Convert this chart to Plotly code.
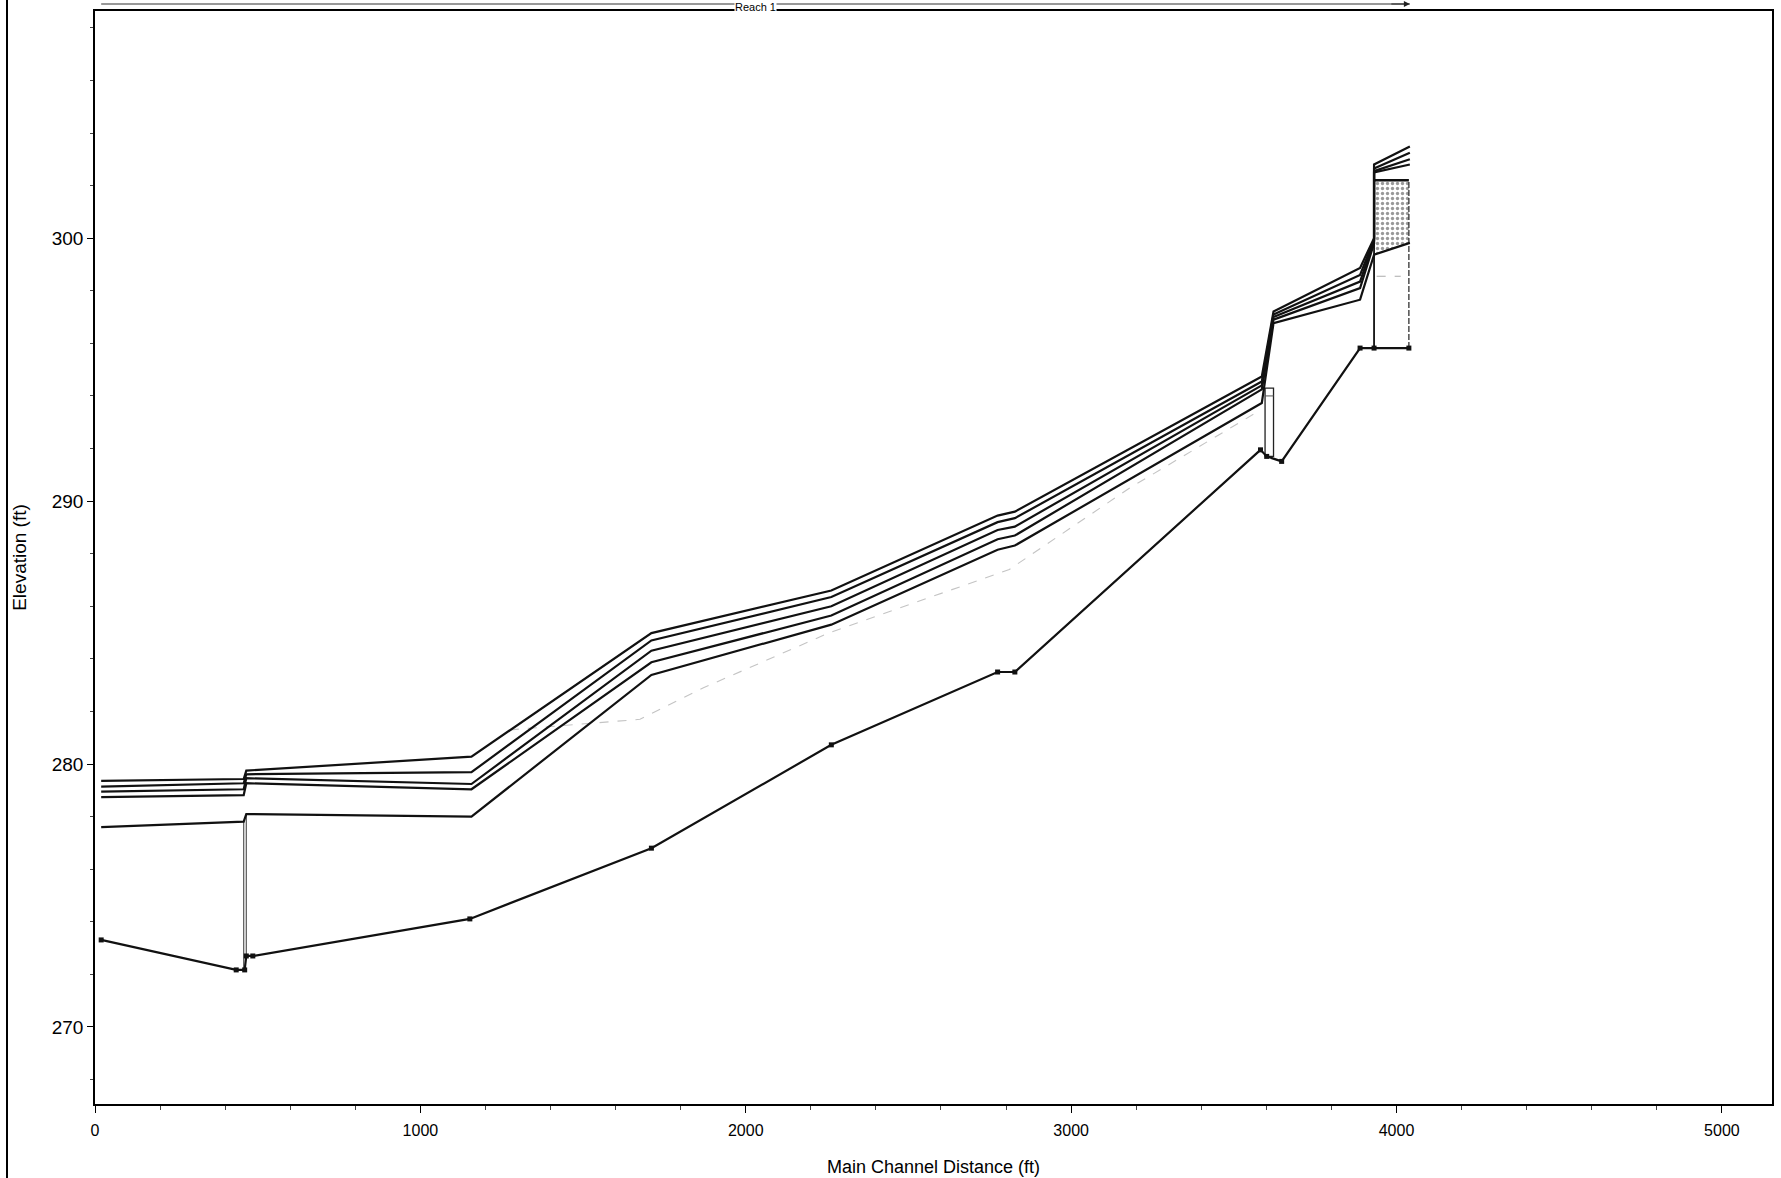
import plotly.graph_objects as go

# ---------------- data ----------------
stations = [19, 457, 465, 1157, 1710, 2263, 2774, 2827, 3586, 3622, 3888, 3931, 3931, 4041]
ws_1 = [279.36, 279.43, 279.75, 280.28, 284.98, 286.60, 289.45, 289.60, 294.74, 297.21, 298.87, 300.00, 302.80, 303.49]
ws_2 = [279.14, 279.27, 279.61, 279.69, 284.70, 286.35, 289.20, 289.35, 294.55, 297.10, 298.60, 299.95, 302.65, 303.25]
ws_3 = [278.95, 279.04, 279.46, 279.24, 284.31, 286.00, 288.90, 289.03, 294.40, 297.00, 298.35, 299.90, 302.55, 303.00]
ws_4 = [278.74, 278.82, 279.27, 279.04, 283.87, 285.65, 288.55, 288.69, 294.25, 296.90, 298.10, 299.80, 302.50, 302.80]
ws_5 = [277.60, 277.81, 278.10, 278.00, 283.39, 285.30, 288.15, 288.31, 293.73, 296.77, 297.66, 299.37, 299.37, 299.82]

ground_x = [19, 434, 460, 465, 485, 1152, 1710, 2263, 2774, 2827, 3582, 3601, 3647, 3888, 3931, 4038]
ground_y = [273.31, 272.17, 272.17, 272.70, 272.70, 274.11, 276.80, 280.73, 283.50, 283.50,
            291.95, 291.70, 291.51, 295.82, 295.82, 295.82]

crit_x = [1275, 1675, 1870, 2258, 2810, 3180, 3560]
crit_y = [281.3, 281.7, 282.9, 285.0, 287.4, 290.5, 293.3]

bridge_x = [457, 465]
bridge_bottom = [272.17, 272.70]
bridge_top = [277.81, 278.10]

culvert_x = [3596, 3622]
culvert_y = [291.70, 294.30]

weir_x = [3931, 4038]
weir_bottom = 295.82
weir_deck = 302.20
weir_left_top = 302.80
weir_fill_low = [299.37, 299.82]

reach_label = "Reach 1"
x_title = "Main Channel Distance (ft)"
y_title = "Elevation (ft)"

# ---------------- figure ----------------
fig = go.Figure()

# stippled region under weir deck
fig.add_trace(go.Scatter(
    x=[weir_x[0], weir_x[1], weir_x[1], weir_x[0], weir_x[0]],
    y=[weir_fill_low[0], weir_fill_low[1], weir_deck, weir_deck, weir_fill_low[0]],
    mode="lines", fill="toself", line=dict(width=0),
    fillcolor="rgba(255,255,255,0)",
    fillpattern=dict(shape=".", fgcolor="#333333", bgcolor="white", size=5, solidity=0.35),
    hoverinfo="skip", showlegend=False))

# critical depth (grey dashed)
fig.add_trace(go.Scatter(x=crit_x, y=crit_y, mode="lines",
                         line=dict(color="#c4c4c4", width=1.1, dash="dash"),
                         showlegend=False))
fig.add_trace(go.Scatter(x=[weir_x[0] + 8, weir_x[1] - 25], y=[298.55, 298.55], mode="lines",
                         line=dict(color="#aaaaaa", width=1.1, dash="dash"), showlegend=False))

# bridge
for bx, b0, b1 in zip(bridge_x, bridge_bottom, bridge_top):
    fig.add_trace(go.Scatter(x=[bx, bx], y=[b0, b1], mode="lines",
                             line=dict(color="#555555", width=1.2), showlegend=False))

# culvert box
fig.add_trace(go.Scatter(
    x=[culvert_x[0], culvert_x[0], culvert_x[1], culvert_x[1], culvert_x[0]],
    y=[culvert_y[0], culvert_y[1], culvert_y[1], culvert_y[0], culvert_y[0]],
    mode="lines", line=dict(color="#222222", width=1.3), showlegend=False))
fig.add_trace(go.Scatter(x=culvert_x, y=[culvert_y[1] - 0.3, culvert_y[1] - 0.3], mode="lines",
                         line=dict(color="#555555", width=1), showlegend=False))

# weir / deck structure
fig.add_trace(go.Scatter(x=[weir_x[0], weir_x[0]], y=[weir_bottom, weir_left_top], mode="lines",
                         line=dict(color="#111111", width=1.8), showlegend=False))
fig.add_trace(go.Scatter(x=[weir_x[1], weir_x[1]], y=[weir_bottom, weir_deck], mode="lines",
                         line=dict(color="#333333", width=1.3, dash="6px,2px"), showlegend=False))
fig.add_trace(go.Scatter(x=weir_x, y=[weir_deck, weir_deck], mode="lines",
                         line=dict(color="#111111", width=2.5), showlegend=False))

# water surface profiles
for ws in [ws_5, ws_4, ws_3, ws_2, ws_1]:
    fig.add_trace(go.Scatter(x=stations, y=ws, mode="lines",
                             line=dict(color="#111111", width=2.2), showlegend=False))

# ground / thalweg
fig.add_trace(go.Scatter(x=ground_x, y=ground_y, mode="lines+markers",
                         line=dict(color="#111111", width=2.2),
                         marker=dict(symbol="square", size=5, color="#111111"),
                         showlegend=False))

font_main = "Liberation Sans, Arial, sans-serif"

TOP = 11
PLOT_H = 1178 - TOP - 74

fig.update_layout(
    width=1781, height=1178,
    margin=dict(l=95, r=9, t=TOP, b=74, autoexpand=False),
    paper_bgcolor="white", plot_bgcolor="white",
    font=dict(family=font_main, color="black", size=16),
    showlegend=False,
    xaxis=dict(
        range=[0, 5154], tickmode="linear", tick0=0, dtick=1000,
        ticks="outside", ticklen=7, tickwidth=1, tickcolor="black",
        minor=dict(dtick=200, ticks="outside", ticklen=4, tickcolor="#444444"),
        showgrid=False, zeroline=False,
        showline=True, linecolor="black", linewidth=1.5, mirror=True,
        tickfont=dict(size=16, family=font_main), ticklabelstandoff=4,
        title=dict(text=x_title, font=dict(size=18, family=font_main), standoff=22),
        automargin=False,
    ),
    yaxis=dict(
        range=[267.07, 308.64], tickmode="linear", tick0=270, dtick=10,
        ticks="outside", ticklen=6, tickwidth=1, tickcolor="black",
        minor=dict(dtick=2, ticks="outside", ticklen=3, tickcolor="#444444"),
        showgrid=False, zeroline=False,
        showline=True, linecolor="black", linewidth=1.5, mirror=True,
        tickfont=dict(size=19, family=font_main),
        title=dict(text=y_title, font=dict(size=19, family=font_main), standoff=20),
        automargin=False,
    ),
)

# reach header line with arrow and label
def px_to_paper_y(py):
    return 1 + (TOP - py) / PLOT_H

hdr_y = px_to_paper_y(4)
reach_start = stations[0]
reach_end = stations[-1]
fig.add_shape(type="line", xref="x", yref="paper", x0=reach_start, x1=reach_end,
              y0=hdr_y, y1=hdr_y, line=dict(color="#333333", width=1.2))
fig.add_annotation(x=reach_end, y=hdr_y, ax=-20, ay=0, xref="x", yref="paper",
                   axref="pixel", ayref="pixel", showarrow=True, arrowhead=2, arrowsize=1,
                   arrowwidth=1.2, arrowcolor="#222222", text="")
fig.add_annotation(x=(reach_start + reach_end) / 2, y=px_to_paper_y(7), xref="x", yref="paper",
                   text=reach_label, showarrow=False, bgcolor="white", borderpad=0,
                   font=dict(size=11, family=font_main), yanchor="middle")

# page border line at the left
bx_paper = (7 - 95) / (1781 - 95 - 9)
fig.add_shape(type="line", xref="paper", yref="paper", x0=bx_paper, x1=bx_paper,
              y0=px_to_paper_y(1178), y1=px_to_paper_y(0), line=dict(color="black", width=2))

fig.write_html("out.html", config={"displayModeBar": False},
               post_script="document.body.style.margin='0';document.body.style.overflow='hidden';")
